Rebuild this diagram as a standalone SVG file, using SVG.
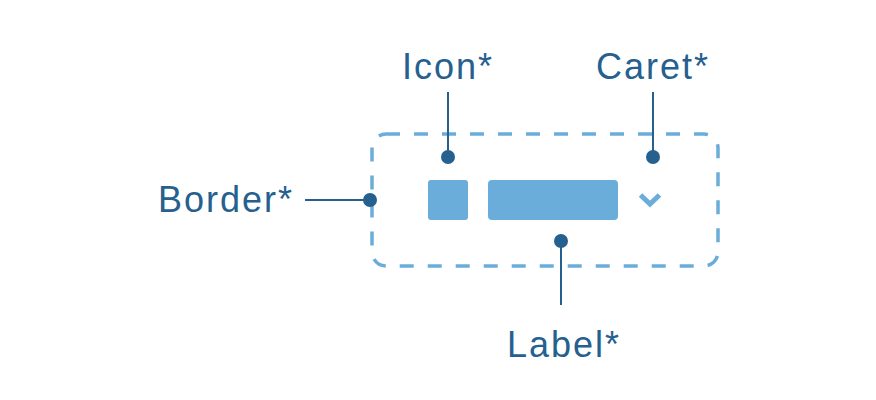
<svg xmlns="http://www.w3.org/2000/svg" width="876" height="400" viewBox="0 0 876 400">
<style>
.lbl{font-family:"Liberation Sans",Arial,sans-serif;font-size:36px;fill:#25608f;letter-spacing:2px}
.ln{stroke:#25608f;stroke-width:2;fill:none}
.dot{fill:#25608f}
.part{fill:#6aaddb}
</style>
<rect width="876" height="400" fill="#ffffff"/>
<g id="component">
<rect x="372" y="134" width="346" height="132" rx="14" fill="none" stroke="#6aaddb" stroke-width="3.5" stroke-dasharray="14 14"/>
</g>
<g id="icon-part"><rect class="part" x="428" y="180" width="40" height="40" rx="3"/></g>
<g id="label-part"><rect class="part" x="488" y="180" width="130" height="40" rx="4"/></g>
<g id="caret-part"><polyline points="640.5,195 650,204 659.5,195" fill="none" stroke="#6aaddb" stroke-width="5"/></g>
<g id="connectors">
<line class="ln" x1="448" y1="92" x2="448" y2="157"/>
<line class="ln" x1="653" y1="92" x2="653" y2="157"/>
<line class="ln" x1="305" y1="200" x2="370" y2="200"/>
<line class="ln" x1="561" y1="241" x2="561" y2="305"/>
<circle class="dot" cx="448" cy="157" r="7"/>
<circle class="dot" cx="653" cy="157" r="7"/>
<circle class="dot" cx="370" cy="200" r="7"/>
<circle class="dot" cx="561" cy="241" r="7"/>
</g>
<g id="icon-label"><text class="lbl" x="448" y="79" text-anchor="middle">Icon*</text></g>
<g id="caret-label"><text class="lbl" x="653" y="79" text-anchor="middle">Caret*</text></g>
<g id="border-label"><text class="lbl" x="294" y="212" text-anchor="end">Border*</text></g>
<g id="label-label"><text class="lbl" x="564" y="357" text-anchor="middle">Label*</text></g>
</svg>
